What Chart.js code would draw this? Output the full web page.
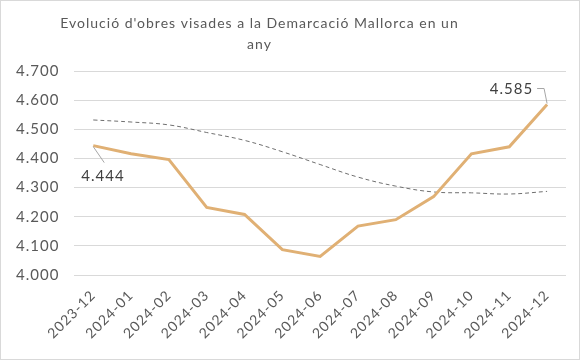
<!DOCTYPE html>
<html>
<head>
<meta charset="utf-8">
<script src="https://cdn.jsdelivr.net/npm/chart.js@4"></script>
<style>
  body { margin: 0; background: #fff; }
  #wrap { width: 580px; height: 360px; box-sizing: border-box; border: 1px solid #d9d9d9; }
</style>
</head>
<body>
<div id="wrap"><canvas id="myChart"></canvas></div>
<script>
// dades
var mesos = ['2023-12', '2024-01', '2024-02', '2024-03', '2024-04', '2024-05', '2024-06',
             '2024-07', '2024-08', '2024-09', '2024-10', '2024-11', '2024-12'];
var obres = [4444, 4416, 4396, 4232, 4208, 4087, 4064, 4168, 4190, 4269, 4416, 4440, 4585];
var tendencia = [4532, 4525, 4515, 4489, 4462, 4423, 4379, 4336, 4305, 4285, 4282, 4278, 4287];
var titol = ["Evolució d'obres visades a la Demarcació Mallorca en un", 'any'];

function fmt(v) {
  return String(v).replace(/\B(?=(\d{3})+(?!\d))/g, '.');
}

Chart.defaults.font.family = 'Lato';
Chart.defaults.color = '#595959';

// una mica d'espai entre lletres, com a l'original
var espaiat = {
  id: 'espaiat',
  beforeLayout: function (chart) { chart.ctx.letterSpacing = '1px'; },
  beforeDraw: function (chart) { chart.ctx.letterSpacing = '1px'; }
};

// el titol original no esta centrat, va una mica a l'esquerra
var movTitol = {
  id: 'movTitol',
  afterLayout: function (chart) {
    var t = chart.titleBlock;
    if (t) { t.left -= 24; t.right -= 24; }
  }
};

// etiquetes del primer i darrer punt, amb linia guia
var etiquetes = {
  id: 'etiquetes',
  afterDatasetsDraw: function (chart) {
    var meta = chart.getDatasetMeta(0);
    var ctx = chart.ctx;
    var p0 = meta.data[0];
    var pn = meta.data[meta.data.length - 1];
    ctx.save();
    ctx.font = '15px Lato';
    ctx.fillStyle = '#404040';
    ctx.strokeStyle = '#a6a6a6';
    ctx.lineWidth = 1;
    // primer
    ctx.beginPath();
    ctx.moveTo(p0.x, p0.y + 1);
    ctx.lineTo(p0.x + 11, p0.y + 17);
    ctx.stroke();
    ctx.textAlign = 'left';
    ctx.textBaseline = 'middle';
    ctx.fillText(fmt(obres[0]), p0.x - 12, p0.y + 31);
    // darrer
    ctx.beginPath();
    ctx.moveTo(pn.x - 10, pn.y - 16);
    ctx.lineTo(pn.x - 3, pn.y - 16);
    ctx.lineTo(pn.x, pn.y - 1);
    ctx.stroke();
    ctx.textAlign = 'right';
    ctx.fillText(fmt(obres[obres.length - 1]), pn.x - 14, pn.y - 15);
    ctx.restore();
  }
};

var myChart = new Chart(document.getElementById('myChart'), {
  type: 'line',
  data: {
    labels: mesos,
    datasets: [{
        label: 'Obres visades',
        data: obres,
        borderColor: '#e0b074',
        borderWidth: 3,
        pointRadius: 0,
        fill: false,
        tension: 0
      },
      {
        label: 'Tendència',
        data: tendencia,
        borderColor: '#6f6f6f',
        borderWidth: 1,
        borderDash: [4, 3],
        pointRadius: 0,
        fill: false,
        tension: 0.4
      }
    ]
  },
  options: {
    responsive: true,
    maintainAspectRatio: false,
    animation: false,
    layout: { padding: { left: 0, right: 13, top: 4, bottom: 13 } },
    plugins: {
      legend: { display: false },
      tooltip: { enabled: false },
      title: {
        display: true,
        text: titol,
        color: '#595959',
        font: { size: 14, weight: 'normal', lineHeight: 1.5 },
        padding: { top: 8, bottom: 16 }
      }
    },
    scales: {
      x: {
        offset: true,
        grid: { display: false },
        border: { display: false },
        ticks: { maxRotation: 45, minRotation: 45, font: { size: 14 }, color: '#595959', padding: 4 }
      },
      y: {
        min: 4000,
        max: 4700,
        grid: { color: '#d9d9d9', drawTicks: false },
        border: { display: false },
        ticks: {
          stepSize: 100,
          padding: 15,
          font: { size: 15 },
          color: '#595959',
          callback: function (v) { return fmt(v); }
        }
      }
    }
  },
  plugins: [espaiat, movTitol, etiquetes]
});
</script>
</body>
</html>
